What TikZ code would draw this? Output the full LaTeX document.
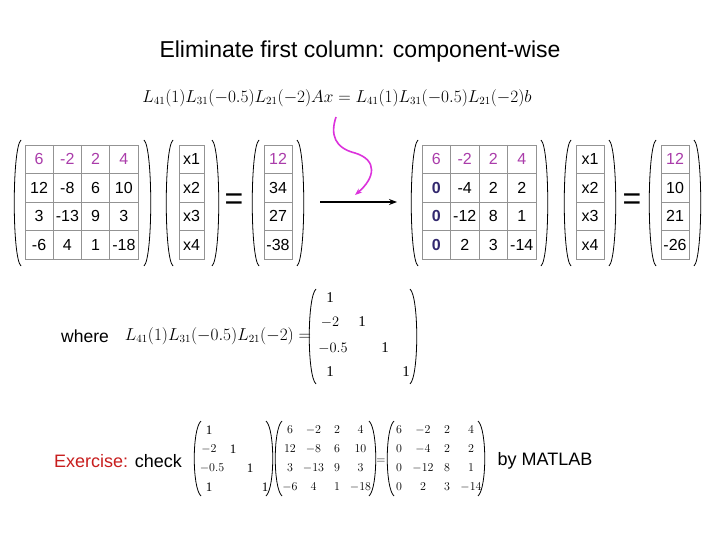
\documentclass[tikz,border=0pt]{standalone}
\usepackage{fontspec}
\usetikzlibrary{arrows.meta}
\setmainfont{Liberation Sans}
\newfontfamily\serif{Liberation Serif}
\definecolor{mag}{RGB}{170,60,170}
\definecolor{curvemag}{RGB}{220,50,220}
\definecolor{zblue}{RGB}{50,40,110}
\definecolor{exred}{RGB}{200,30,30}
\begin{document}
\begin{tikzpicture}[x=1pt,y=-1pt,
  cell/.style={font=\fontsize{16}{18}\selectfont},
  grid/.style={draw=gray!85,line width=0.8pt},
  paren/.style={line width=0.8pt},
  mtx/.style={font=\serif\fontsize{15}{17}\selectfont},
  frm/.style={font=\serif\fontsize{16}{18}\selectfont}]
\useasboundingbox (0,0) rectangle (720,540);
\fill[white] (0,0) rectangle (720,540);
\node[font=\fontsize{23}{26}\selectfont] (title) at (360,52) {Eliminate first column: component-wise};
\node[frm] (eq) at (337,98) {$L_{41}(1)L_{31}(-0.5)L_{21}(-2)Ax=L_{41}(1)L_{31}(-0.5)L_{21}(-2)b$};
% parens
\newcommand{\pl}[3]{\draw[paren] (#1+6,#2) .. controls (#1-3,#2+8) and (#1-3,#3-8) .. (#1+6,#3);}
\newcommand{\pr}[3]{\draw[paren] (#1-6,#2) .. controls (#1+3,#2+8) and (#1+3,#3-8) .. (#1-6,#3);}
\newcommand{\vecbox}[2]{\draw[grid] (#1,145) rectangle (#2,259); \foreach \y in {173.5,202,230.5} \draw[grid] (#1,\y) -- (#2,\y);}
\newcommand{\gridbox}[2]{\draw[grid] (#1,145) rectangle (#1+4*#2,259);
  \foreach \k in {1,2,3} {\draw[grid] (#1+\k*#2,145) -- (#1+\k*#2,259); \draw[grid] (#1,145+28.5*\k) -- (#1+4*#2,145+28.5*\k);}}
% left system
\gridbox{25}{28.25}
\vecbox{179}{204}
\vecbox{264}{292}
\pl{15}{140}{266}\pr{150}{140}{266}
\pl{167}{140}{266}\pr{218}{140}{266}
\pl{253}{140}{266}\pr{303}{140}{266}
\node[font=\fontsize{32}{32}\selectfont] (eq1) at (234,202) {=};
\foreach \r/\vals [count=\i from 0] in {0/{6,-2,2,4},1/{12,-8,6,10},2/{3,-13,9,3},3/{-6,4,1,-18}} {
  \foreach \v [count=\j from 0] in \vals {
    \ifnum\i=0 \node[cell,text=mag] (a\i\j) at (39.1+28.25*\j,159.25+28.5*\i) {\v};
    \else \node[cell] (a\i\j) at (39.1+28.25*\j,159.25+28.5*\i) {\v}; \fi
  }}
\foreach \v [count=\i from 0] in {x1,x2,x3,x4} \node[cell] (x\i) at (191.5,159.25+28.5*\i) {\v};
\foreach \v [count=\i from 0] in {12,34,27,-38} {
  \ifnum\i=0 \node[cell,text=mag] (b\i) at (278,159.25+28.5*\i) {\v};
  \else \node[cell] (b\i) at (278,159.25+28.5*\i) {\v}; \fi}
% arrow
\coordinate (as) at (320,202); \coordinate (ae) at (397,202);
\draw[line width=1.5pt,-{Stealth[length=8pt]}] (as) -- (ae);
\coordinate (cs) at (336,117); \coordinate (ce) at (355,195);
\draw[curvemag,line width=1.6pt,-{Stealth[length=7pt]}] (cs) .. controls (330,135) and (335,148) .. (355,153) .. controls (378,160) and (375,178) .. (ce);
% right system
\gridbox{422}{28.5}
\vecbox{576}{604}
\vecbox{661}{689}
\pl{412}{140}{266}\pr{547}{140}{266}
\pl{565}{140}{266}\pr{615}{140}{266}
\pl{650}{140}{266}\pr{700}{140}{266}
\node[font=\fontsize{32}{32}\selectfont] (eq2) at (632,202) {=};
\foreach \r/\vals [count=\i from 0] in {0/{6,-2,2,4},1/{0,-4,2,2},2/{0,-12,8,1},3/{0,2,3,-14}} {
  \foreach \v [count=\j from 0] in \vals {
    \ifnum\i=0 \node[cell,text=mag] (c\i\j) at (436.25+28.5*\j,159.25+28.5*\i) {\v};
    \else\ifnum\j=0 \node[cell,text=zblue,font=\bfseries\fontsize{16}{18}\selectfont] (c\i\j) at (436.25+28.5*\j,159.25+28.5*\i) {\v};
    \else \node[cell] (c\i\j) at (436.25+28.5*\j,159.25+28.5*\i) {\v}; \fi\fi
  }}
\foreach \v [count=\i from 0] in {x1,x2,x3,x4} \node[cell] (y\i) at (590,159.25+28.5*\i) {\v};
\foreach \v [count=\i from 0] in {12,10,21,-26} {
  \ifnum\i=0 \node[cell,text=mag] (d\i) at (675,159.25+28.5*\i) {\v};
  \else \node[cell] (d\i) at (675,159.25+28.5*\i) {\v}; \fi}
% where
\node[font=\fontsize{17.5}{20}\selectfont] (where) at (85,336) {where};
\node[frm] (lw) at (218,336) {$L_{41}(1)L_{31}(-0.5)L_{21}(-2)=$};
\pl{310}{289}{384}\pr{416}{289}{384}
\node[mtx] (m00) at (330,298) {1};
\node[mtx] (m10) at (330,322) {$-2$}; \node[mtx] (m11) at (362,322) {1};
\node[mtx] (m20) at (333,348) {$-0.5$}; \node[mtx] (m22) at (385,348) {1};
\node[mtx] (m30) at (330,372) {1}; \node[mtx] (m33) at (406,372) {1};
% exercise
\node[font=\fontsize{18}{20}\selectfont] (ex) at (118,461) {\textcolor{exred}{Exercise:} check};
\pl{195}{421}{496}\pr{272}{421}{496}
\pl{276}{421}{496}\pr{375}{421}{496}
\pl{388}{421}{496}\pr{484}{421}{496}
\tikzset{sm/.style={font=\serif\fontsize{13}{15}\selectfont}}
\node[sm] (eq3) at (381,461) {$=$};
\node[sm] (p00) at (209,430) {1};
\node[sm] (p10) at (209,449) {$-2$}; \node[sm] (p11) at (233,449) {1};
\node[sm] (p20) at (212,468) {$-0.5$}; \node[sm] (p22) at (250,468) {1};
\node[sm] (p30) at (209,487) {1}; \node[sm] (p33) at (265,487) {1};
\foreach \r/\vals [count=\i from 0] in {0/{6,-2,2,4},1/{12,-8,6,10},2/{3,-13,9,3},3/{-6,4,1,-18}} {
  \foreach \v [count=\j from 0] in \vals {
    \node[sm] (q\i\j) at (290+23.5*\j,430+19*\i) {$\v$};}}
\foreach \r/\vals [count=\i from 0] in {0/{6,-2,2,4},1/{0,-4,2,2},2/{0,-12,8,1},3/{0,2,3,-14}} {
  \foreach \v [count=\j from 0] in \vals {
    \node[sm] (r\i\j) at (399+24*\j,430+19*\i) {$\v$};}}
\node[font=\fontsize{18}{20}\selectfont] (mat) at (545,461) {by MATLAB};
\end{tikzpicture}
\end{document}
